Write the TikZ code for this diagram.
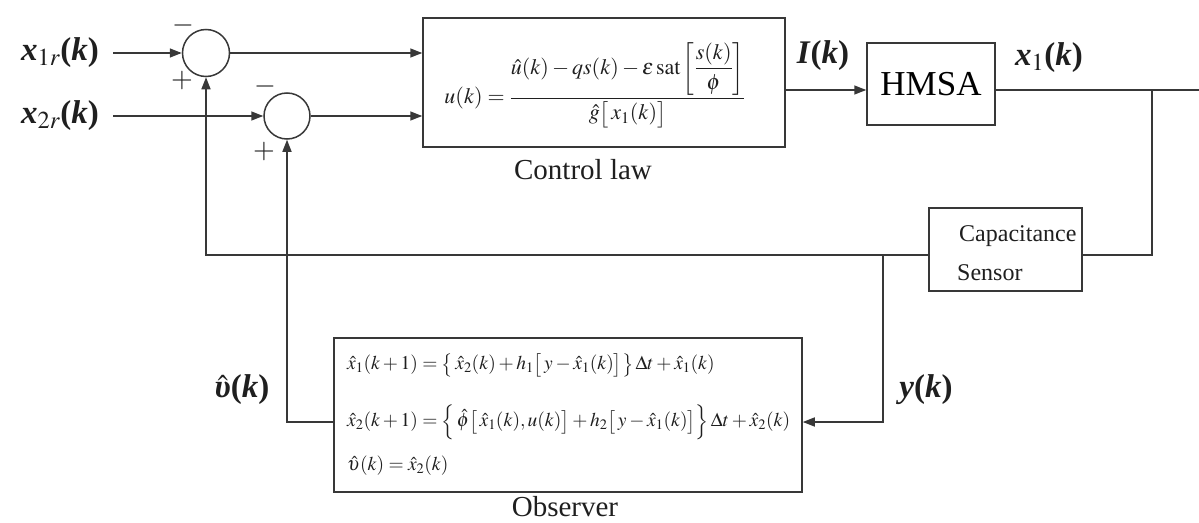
\documentclass[tikz,border=0pt]{standalone}
\usepackage{amsmath}
\usepackage{mathptmx}
\usepackage{fontspec}
\setmainfont{Liberation Serif}
\usetikzlibrary{arrows.meta,calc}
\newcommand{\bi}[1]{\textbf{\textit{#1}}}
\begin{document}
\begin{tikzpicture}[x=1pt,y=-1pt,
  line/.style={draw=black!78, line width=1.5pt},
  arr/.style={line, -{Triangle[length=12pt,width=9pt]}},
  sumnode/.style={circle, draw=black!78, line width=1.5pt, minimum size=47pt, inner sep=0pt},
  blk/.style={draw=black!78, line width=1.5pt, rectangle, inner sep=0pt},
  lbl/.style={inner sep=0pt, text=black!88},
  biglbl/.style={lbl, font=\fontsize{33}{38}\selectfont},
  sgn/.style={lbl, font=\fontsize{28}{30}\selectfont},
  eqn/.style={lbl, font=\fontsize{19.5}{22}\selectfont},
  captxt/.style={lbl, font=\fontsize{29}{32}\selectfont}
]
\useasboundingbox (0,0) rectangle (1199,522);

% summing junctions
\node[sumnode] (s1) at (206,53) {};
\node[sumnode, minimum size=46pt] (s2) at (287,116) {};
\node[sgn] (m1) at (183,25) {$-$};
\node[sgn] (p1) at (182,81) {$+$};
\node[sgn] (m2) at (265,86) {$-$};
\node[sgn] (p2) at (264,152) {$+$};

% input labels
\node[biglbl] (x1r) at (60,53) {\bi{x}$_{1r}$\textbf{(\textit{k})}};
\node[biglbl] (x2r) at (60,116) {\bi{x}$_{2r}$\textbf{(\textit{k})}};
\coordinate (in1) at (113,53);
\coordinate (in2) at (113,116);

% control law
\node[blk, minimum width=362pt, minimum height=129pt] (ctrl) at (604,82.5) {};
\node[eqn, font=\fontsize{22}{24}\selectfont] (ctrleq) at (595,85) {$u(k)=\dfrac{\hat{u}(k)-qs(k)-\varepsilon\,\mathrm{sat}\left[\dfrac{s(k)}{\phi}\right]}{\hat{g}\bigl[\,x_1(k)\bigr]}$};
\node[captxt] (ctrlcap) at (583,170) {Control law};

% plant
\node[blk, minimum width=128pt, minimum height=82pt, font=\fontsize{35}{40}\selectfont] (hmsa) at (931,84) {HMSA};
\node[biglbl] (Ik) at (823,56) {\bi{I}\textbf{(\textit{k})}};
\node[biglbl] (x1k) at (1049,58) {\bi{x}$_{1}$\textbf{(\textit{k})}};

% sensor
\node[blk, minimum width=153pt, minimum height=83pt] (sens) at (1005.5,249.5) {};
\node[lbl, anchor=west, font=\fontsize{24}{26}\selectfont] (capt1) at (959,236) {Capacitance};
\node[lbl, anchor=west, font=\fontsize{24}{26}\selectfont] (capt2) at (957,273) {Sensor};

% observer
\node[blk, minimum width=468pt, minimum height=154pt] (obs) at (568,415) {};
\node[eqn, anchor=west] (oe1) at (347,365) {$\hat{x}_1(k+1)=\bigl\{\,\hat{x}_2(k)+h_1\bigl[\,y-\hat{x}_1(k)\bigr]\bigr\}\,\Delta t+\hat{x}_1(k)$};
\node[eqn, anchor=west] (oe2) at (347,422) {$\hat{x}_2(k+1)=\Bigl\{\,\hat{\phi}\bigl[\,\hat{x}_1(k),u(k)\bigr]+h_2\bigl[\,y-\hat{x}_1(k)\bigr]\Bigr\}\,\Delta t+\hat{x}_2(k)$};
\node[eqn, anchor=west] (oe3) at (347,466) {$\hat{\upsilon}(k)=\hat{x}_2(k)$};
\node[captxt] (obscap) at (565,507) {Observer};
\node[biglbl] (vk) at (242,390) {$\hat{\text{\bfseries\itshape υ}}$\textbf{(\textit{k})}};
\node[biglbl] (yk) at (926,390) {\bi{y}\textbf{(\textit{k})}};

% routing coordinates
\coordinate (hrow) at (0,90);
\coordinate (crow) at (0,255);
\coordinate (yrow) at (0,422);
\coordinate (out) at (1199,90);
\coordinate (j1) at (1152,90);
\coordinate (j2) at (883,255);

% connectors
\draw[arr] (in1) -- (s1.west);
\draw[arr] (in2) -- (s2.west);
\draw[arr] (s1.east) -- (ctrl.west |- s1.east);
\draw[arr] (s2.east) -- (ctrl.west |- s2.east);
\draw[arr] (ctrl.east |- hrow) -- (hmsa.west |- hrow);
\draw[line] (hmsa.east |- hrow) -- (out);
\draw[line] (j1) |- (sens.east |- crow);
\draw[arr] (sens.west |- crow) -| (s1.south);
\draw[arr] (j2) |- (obs.east |- yrow);
\draw[arr] (obs.west |- yrow) -| (s2.south);
\end{tikzpicture}
\end{document}
